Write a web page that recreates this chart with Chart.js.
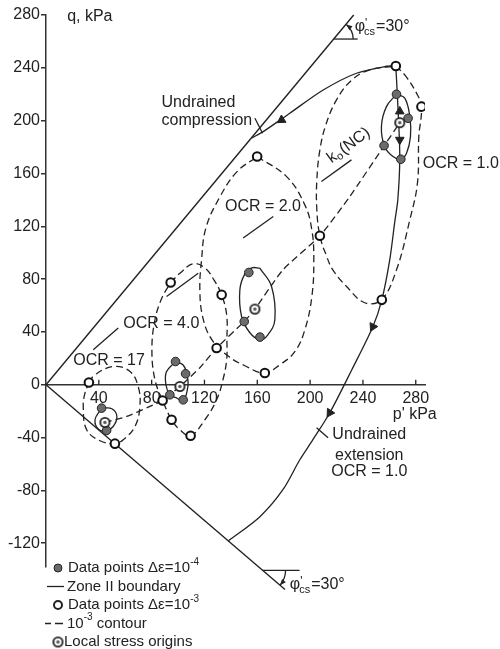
<!DOCTYPE html>
<html>
<head>
<meta charset="utf-8">
<script src="https://cdn.jsdelivr.net/npm/chart.js@4.4.1/dist/chart.umd.min.js"></script>
<style>
  html, body { margin: 0; padding: 0; background: #fff; }
  canvas { display: block; }
</style>
</head>
<body>
<canvas id="chart" width="500" height="649"></canvas>
<script>
// axis ticks
const pTicks = [40, 80, 120, 160, 200, 240, 280];
const qTicks = [-120, -80, -40, 0, 40, 80, 120, 160, 200, 240, 280];

// critical state lines (phi'cs = 30 deg) and the angle markers
const cslCompression = [[0, 0], [233, 280]];
const cslExtension = [[0, 0], [181, -155]];
const phiMarkTop = [[218.2, 261.8], [236, 261.8]];
const phiMarkBottom = [[164, -140.5], [192, -140.5]];

// stress paths, p' and q in kPa
const undrainedCompression = [[264.9, 241.4], [258, 241.2], [235.1, 235.9], [209.9, 223.2], [184.6, 205.6], [164.5, 191.7], [155.9, 186.9]];
const undrainedExtension = [[264.9, 241.4], [267.1, 198.3], [267.9, 170.3], [266.4, 140], [264.1, 123.4], [260.3, 94.6], [254.3, 64.3], [247.5, 43.9], [231.6, 11.4], [214.9, -21.2], [202.1, -41.6], [192.2, -56.8], [179.4, -79.5], [162, -99.9], [138, -118.3]];
const k0Path = [[44.6, -28.5], [61.1, -24], [78.7, -16.4], [88.3, -11.9], [101.4, -1.3], [116.5, 12.9], [129.2, 27.8], [150.1, 47.9], [158.2, 57.3], [179.4, 87], [207.4, 112.8], [230, 142.5], [256.5, 181.6], [267.9, 198.5]];

// 10^-3 contours
const contourOcr1 = [[264.9, 241.4], [271.7, 234.6], [280.5, 221], [284.3, 210.6], [282.3, 187.7], [281.3, 152.9], [275.5, 124.9], [265.4, 87], [254, 64.3], [241.4, 62.1], [227.6, 74.4], [217.2, 87], [212.4, 97.6], [207.4, 112.8], [205.1, 132.4], [205.1, 155.1], [207.4, 177.8], [211.9, 196.8], [220, 215.7], [231.6, 230.8], [245.2, 238.4], [264.9, 241.4]];
const contourOcr2 = [[159.9, 172.8], [182.4, 157.4], [196, 136.2], [201.3, 117.3], [202.8, 94.6], [201.3, 66.6], [196, 41.6], [188.4, 25], [177.1, 15.1], [165.7, 8.9], [150.6, 14.4], [137.7, 21.9], [125.6, 34.1], [118.8, 50.7], [116.5, 71.9], [117.8, 94.6], [121.1, 118.8], [131.7, 142.3], [144.5, 161.2], [159.9, 172.8]];
const contourOcr4 = [[94.4, 77.4], [101.4, 84.5], [111.5, 91.6], [120.3, 88.5], [127.1, 79.5], [133, 68.1], [136.8, 53], [137, 34.1], [136.8, 18.9], [134, 3.8], [129.2, -11.4], [120.3, -26.5], [109.5, -38.6], [101.4, -34.1], [95.1, -26.5], [88.3, -11.9], [82.5, 3.8], [80.2, 26.5], [82.5, 49.2], [87.8, 65.8], [94.4, 77.4]];
const contourOcr17 = [[32.5, 1.7], [37.1, 7.6], [50.9, 13.8], [63.6, 10.1], [69.8, -1.3], [71.1, -16.4], [67.4, -31.6], [58.5, -41.6], [52.2, -44.6], [40.9, -42.4], [30.8, -34.1], [28.2, -16.4], [29.5, -6.3], [32.5, 1.7]];

// zone II boundaries (solid loops)
const zoneOcr1 = [[265.4, 220], [271.7, 217], [275.5, 203], [276, 187.9], [273, 175.3], [268.7, 170.8], [262.8, 172.8], [256.5, 180.3], [254, 195.5], [257.8, 210.6], [265.4, 220]];
const zoneOcr2 = [[161.9, 88.3], [170.8, 74.4], [173.3, 49.2], [168, 37.8], [162, 34.1], [154.4, 39.4], [148.1, 51.7], [146.8, 71.9], [150.6, 84], [155.9, 88.5], [161.9, 88.3]];
const zoneOcr4 = [[98.1, 17.6], [103.7, 15.1], [106.5, 8.9], [107.5, -0.8], [103.9, -11.9], [98.4, -9.8], [93.8, -7.6], [90.8, 0], [91.2, 9.8], [98.1, 17.6]];
const zoneOcr17 = [[42.2, -17.6], [49.9, -18.2], [53.7, -24.2], [50.7, -31.8], [45.9, -34.6], [40.1, -34.1], [37.1, -26.5], [42.2, -17.6]];

// measured points
const pointsE4 = [[265.4, 220], [274.2, 201.8], [256, 181.1], [268.7, 170.8], [153.6, 85], [150.1, 47.9], [162, 36.1], [98.1, 17.6], [105.7, 8.3], [103.9, -11.4], [93.8, -7.6], [42.1, -17.7], [45.9, -34.6]];
const pointsE3 = [[264.9, 241.4], [284.3, 210.6], [254.3, 64.3], [207.4, 112.8], [159.9, 172.8], [165.7, 8.9], [129.2, 27.8], [94.4, 77.4], [133, 68.1], [95.1, -26.5], [109.5, -38.6], [88.3, -11.9], [32.5, 1.7], [52.2, -44.6]];
const stressOrigins = [[44.6, -28.5], [101.4, -1.3], [158.2, 57.3], [267.9, 198.5]];

// arrow heads: position, then a point further along the path
const arrowHeads = [[178.4, 200.5, 164.5, 191.7], [247.5, 43.9, 231.6, 11.4], [214.9, -21.2, 202.1, -41.6], [267.9, 207, 267.9, 230], [267.9, 185.5, 267.9, 160]];

// leader lines for the labels
const leaderCompression = [[158.2, 201.8], [164, 190.5]];
const leaderOcr2 = [[149.3, 111.1], [172.1, 127.4]];
const leaderK0 = [[208.6, 153.9], [231.3, 170.3]];
const leaderOcr4a = [[91.3, 66.8], [115.3, 84.5]];
const leaderOcr4b = [[35.8, 26.5], [54.7, 42.9]];
const leaderExtension = [[204.9, -32.5], [213.6, -40.1]];

const INK = '#222';
const FONT = '"Liberation Sans", Arial, Helvetica, sans-serif';

const toXY = arr => arr.map(([p, q]) => ({ x: p, y: q }));

function lineSet(arr, opts) {
    return Object.assign({
        data: toXY(arr), showLine: true, pointRadius: 0, pointHoverRadius: 0,
        borderColor: INK, borderWidth: 1.3, fill: false, tension: 0
    }, opts);
}

function originMark() {
    const c = document.createElement('canvas');
    c.width = 13; c.height = 13;
    const g = c.getContext('2d');
    g.fillStyle = INK; g.beginPath(); g.arc(6.5, 6.5, 5.5, 0, Math.PI * 2); g.fill();
    g.fillStyle = '#fff'; g.beginPath(); g.arc(6.5, 6.5, 3.7, 0, Math.PI * 2); g.fill();
    g.fillStyle = '#555'; g.beginPath(); g.arc(6.5, 6.5, 1.7, 0, Math.PI * 2); g.fill();
    return c;
}
const originImg = originMark();

// labels, anchored in p', q coordinates
const labels = [
    { t: 'q, kPa', p: 16, q: 278.6 },
    { t: 'Undrained', p: 87.5, q: 213.8 },
    { t: 'compression', p: 87.5, q: 200 },
    { t: 'OCR = 1.0', p: 285.3, q: 167.2 },
    { t: 'OCR = 2.0', p: 135.5, q: 134.9 },
    { t: 'OCR = 4.0', p: 58.5, q: 46.2 },
    { t: 'OCR = 17', p: 20.7, q: 18.3 },
    { t: "p' kPa", p: 262.6, q: -22.7 },
    { t: 'Undrained', p: 244.8, q: -37.8, align: 'center' },
    { t: 'extension', p: 244.8, q: -53.6, align: 'center' },
    { t: 'OCR = 1.0', p: 244.8, q: -65.6, align: 'center' }
];

function drawPhi(ctx, x, y) {
    ctx.textAlign = 'left';
    ctx.font = '16px ' + FONT;
    ctx.fillText('\u03c6', x, y);
    const w = ctx.measureText('\u03c6').width;
    ctx.font = '12px ' + FONT;
    ctx.fillText("'", x + w, y - 3);
    ctx.font = '11px ' + FONT;
    ctx.fillText('cs', x + w - 1, y + 5);
    ctx.font = '16px ' + FONT;
    ctx.fillText('=30\u00b0', x + w + 11, y);
}

function arcArrow(ctx, cx, cy, r, a0, a1) {
    ctx.beginPath();
    ctx.arc(cx, cy, r, a0, a1, a1 < a0);
    ctx.stroke();
    const ex = cx + r * Math.cos(a1), ey = cy + r * Math.sin(a1);
    const dir = a1 < a0 ? a1 - Math.PI / 2 : a1 + Math.PI / 2;
    ctx.beginPath();
    ctx.moveTo(ex, ey);
    ctx.lineTo(ex - 6 * Math.cos(dir) + 2.5 * Math.cos(dir + Math.PI / 2), ey - 6 * Math.sin(dir) + 2.5 * Math.sin(dir + Math.PI / 2));
    ctx.lineTo(ex - 6 * Math.cos(dir) - 2.5 * Math.cos(dir + Math.PI / 2), ey - 6 * Math.sin(dir) - 2.5 * Math.sin(dir + Math.PI / 2));
    ctx.closePath();
    ctx.fill();
}

const annotate = {
    id: 'annotate',
    afterDatasetsDraw(chart) {
        const { ctx, scales: { x, y }, chartArea } = chart;
        const X = p => x.getPixelForValue(p);
        const Y = q => y.getPixelForValue(q);
        ctx.save();
        ctx.fillStyle = INK;
        ctx.strokeStyle = INK;
        ctx.lineWidth = 1.3;

        // x ticks point up from the axis
        pTicks.forEach(v => {
            ctx.beginPath();
            ctx.moveTo(X(v), Y(0));
            ctx.lineTo(X(v), Y(0) - 5);
            ctx.stroke();
        });

        ctx.textBaseline = 'middle';
        labels.forEach(l => {
            ctx.font = '16px ' + FONT;
            ctx.textAlign = l.align || 'left';
            ctx.fillText(l.t, X(l.p), Y(l.q));
        });

        // k0(NC), written along its leader
        ctx.save();
        ctx.translate(X(214.2), Y(170.3));
        ctx.rotate(-36 * Math.PI / 180);
        ctx.textAlign = 'left';
        ctx.font = '16px ' + FONT;
        ctx.fillText('k', 0, 0);
        const kw = ctx.measureText('k').width;
        ctx.font = '11px ' + FONT;
        ctx.fillText('o', kw, 4);
        const ow = ctx.measureText('o').width;
        ctx.font = '16px ' + FONT;
        ctx.fillText('(NC)', kw + ow + 1, 0);
        ctx.restore();

        // friction angle marks
        const slopeC = Math.atan(cslCompression[1][1] / cslCompression[1][0]);
        const slopeE = Math.atan(-cslExtension[1][1] / cslExtension[1][0]);
        arcArrow(ctx, X(phiMarkTop[0][0]), Y(phiMarkTop[0][1]), 19, 0, -slopeC);
        arcArrow(ctx, X(phiMarkBottom[0][0]), Y(phiMarkBottom[0][1]), 23, 0, slopeE);
        drawPhi(ctx, X(233.8), Y(271));
        drawPhi(ctx, X(184.6), Y(-151.4));

        // legend
        const base = chartArea.bottom + 1;
        const step = 18.5;
        ctx.font = '15px ' + FONT;
        ctx.textAlign = 'left';
        const sup = (txt, x0, yy) => {
            ctx.font = '10px ' + FONT;
            ctx.fillText(txt, x0, yy - 6);
            const w = ctx.measureText(txt).width;
            ctx.font = '15px ' + FONT;
            return w;
        };
        // row 1
        let yy = base;
        ctx.fillStyle = '#6b6b6b';
        ctx.beginPath(); ctx.arc(58, yy, 4, 0, Math.PI * 2); ctx.fill();
        ctx.lineWidth = 1; ctx.stroke();
        ctx.fillStyle = INK;
        ctx.fillText('Data points \u0394\u03b5=10', 68, yy);
        sup('-4', 68 + ctx.measureText('Data points \u0394\u03b5=10').width, yy);
        // row 2
        yy = base + step;
        ctx.lineWidth = 1.3;
        ctx.beginPath(); ctx.moveTo(47, yy); ctx.lineTo(64, yy); ctx.stroke();
        ctx.fillText('Zone II boundary', 67, yy);
        // row 3
        yy = base + step * 2;
        ctx.fillStyle = '#fff';
        ctx.lineWidth = 2;
        ctx.beginPath(); ctx.arc(58, yy, 4, 0, Math.PI * 2); ctx.fill(); ctx.stroke();
        ctx.fillStyle = INK;
        ctx.fillText('Data points \u0394\u03b5=10', 68, yy);
        sup('-3', 68 + ctx.measureText('Data points \u0394\u03b5=10').width, yy);
        // row 4
        yy = base + step * 3;
        ctx.lineWidth = 1.3;
        ctx.beginPath(); ctx.moveTo(45, yy); ctx.lineTo(51, yy); ctx.moveTo(55, yy); ctx.lineTo(63, yy); ctx.stroke();
        ctx.fillText('10', 67, yy);
        const w10 = ctx.measureText('10').width;
        const ws = sup('-3', 67 + w10, yy);
        ctx.fillText(' contour', 67 + w10 + ws, yy);
        // row 5
        yy = base + step * 4;
        ctx.drawImage(originImg, 58 - 6.5, yy - 6.5);
        ctx.fillText('Local stress origins', 64, yy);

        ctx.restore();
    }
};

const arrowRotation = c => {
    const a = arrowHeads[c.dataIndex];
    const sx = c.chart.scales.x, sy = c.chart.scales.y;
    const dx = sx.getPixelForValue(a[2]) - sx.getPixelForValue(a[0]);
    const dy = sy.getPixelForValue(a[3]) - sy.getPixelForValue(a[1]);
    return Math.atan2(dx, -dy) * 180 / Math.PI;
};

const dashed = [7, 4];

new Chart(document.getElementById('chart').getContext('2d'), {
    type: 'scatter',
    data: {
        datasets: [
            { label: 'origins', data: toXY(stressOrigins), pointStyle: originImg, pointRadius: 6 },
            { label: 'e4', data: toXY(pointsE4), pointRadius: 4.3, backgroundColor: '#6b6b6b', borderColor: INK, borderWidth: 1 },
            { label: 'e3', data: toXY(pointsE3), pointRadius: 4.3, backgroundColor: '#fff', borderColor: '#111', borderWidth: 2 },
            { label: 'arrows', data: arrowHeads.map(a => ({ x: a[0], y: a[1] })), pointStyle: 'triangle', pointRadius: 5, rotation: arrowRotation, backgroundColor: INK, borderColor: INK, borderWidth: 1 },
            lineSet(zoneOcr1, { tension: 0.4 }),
            lineSet(zoneOcr2, { tension: 0.4 }),
            lineSet(zoneOcr4, { tension: 0.4 }),
            lineSet(zoneOcr17, { tension: 0.4 }),
            lineSet(contourOcr1, { tension: 0.4, borderDash: dashed }),
            lineSet(contourOcr2, { tension: 0.4, borderDash: dashed }),
            lineSet(contourOcr4, { tension: 0.4, borderDash: dashed }),
            lineSet(contourOcr17, { tension: 0.4, borderDash: dashed }),
            lineSet(k0Path, { tension: 0.2, borderDash: dashed }),
            lineSet(undrainedCompression, { tension: 0.3 }),
            lineSet(undrainedExtension, { tension: 0.3, clip: false }),
            lineSet(cslCompression, { borderWidth: 1.4, clip: false }),
            lineSet(cslExtension, { borderWidth: 1.4, clip: false }),
            lineSet(phiMarkTop, { clip: false }),
            lineSet(phiMarkBottom, { clip: false }),
            lineSet(leaderCompression),
            lineSet(leaderOcr2),
            lineSet(leaderK0),
            lineSet(leaderOcr4a),
            lineSet(leaderOcr4b),
            lineSet(leaderExtension)
        ]
    },
    options: {
        responsive: false,
        devicePixelRatio: 1,
        animation: false,
        layout: { padding: { left: 0, right: 75, top: 15, bottom: 82 } },
        plugins: { legend: { display: false }, tooltip: { enabled: false } },
        scales: {
            x: {
                type: 'linear', min: 0, max: 287, position: { y: 0 },
                afterBuildTicks: s => { s.ticks = pTicks.map(v => ({ value: v })); },
                grid: { display: false, drawTicks: false },
                border: { display: true, color: '#333', width: 1.5 },
                ticks: { color: INK, font: { size: 16, family: FONT }, padding: 4, maxRotation: 0, autoSkip: false }
            },
            y: {
                type: 'linear', min: -138, max: 280, position: 'left',
                afterBuildTicks: s => { s.ticks = qTicks.map(v => ({ value: v })); },
                afterFit: s => { s.width = 46; },
                grid: { drawOnChartArea: false, tickLength: 5, color: '#333', lineWidth: 1.5 },
                border: { display: true, color: '#333', width: 1.5 },
                ticks: { color: INK, font: { size: 16, family: FONT }, padding: 1, autoSkip: false }
            }
        }
    },
    plugins: [annotate]
});
</script>
</body>
</html>
